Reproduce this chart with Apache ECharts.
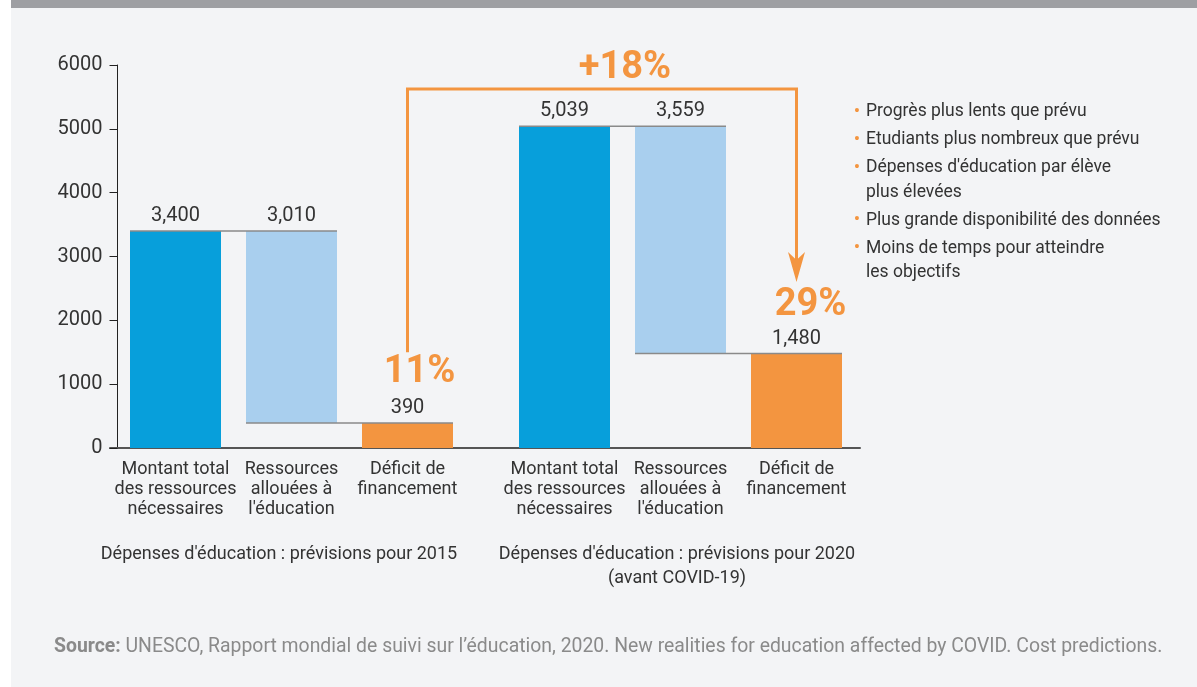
<!DOCTYPE html>
<html>
<head>
<meta charset="utf-8">
<script src="https://cdn.jsdelivr.net/npm/echarts@6/dist/echarts.min.js"></script>
<style>
html,body{margin:0;padding:0;background:#ffffff;}
#wrap{position:absolute;left:11px;top:0;width:1186px;height:687px;background:#f3f4f6;}
#bar{position:absolute;left:0;top:0;width:1186px;height:8px;background:#9e9fa3;}
#chart{position:absolute;left:0;top:0;width:1197px;height:687px;}
</style>
</head>
<body>
<div id="wrap"><div id="bar"></div></div>
<div id="chart"></div>
<script>
// ---- data ----
const categories = ['Montant total\ndes ressources\nnécessaires', 'Ressources\nallouées à\nl\'éducation', 'Déficit de\nfinancement'];
const groupTitles = ['Dépenses d\'éducation : prévisions pour 2015', 'Dépenses d\'éducation : prévisions pour 2020\n(avant COVID-19)'];
const needed = [3400, 5039];
const allocated = [3010, 3559];
const deficit = [390, 1480];
const deficitShare = ['11%', '29%'];
const increaseLabel = '+18%';
const yMin = 0, yMax = 6000, yInterval = 1000;
const notes = [
  'Progrès plus lents que prévu',
  'Etudiants plus nombreux que prévu',
  'Dépenses d\'éducation par élève\nplus élevées',
  'Plus grande disponibilité des données',
  'Moins de temps pour atteindre\nles objectifs'
];
const sourceBold = 'Source:';
const sourceText = ' UNESCO, Rapport mondial de suivi sur l’éducation, 2020. New realities for education affected by COVID. Cost predictions.';

// ---- style ----
const FONT = 'Roboto';
const C_BLUE = '#079fdb', C_LIGHT = '#a9cfee', C_ORANGE = '#f39540', C_TEXT = '#333333', C_SRC = '#8a8a8a';
const BAR_W = 91;

const chart = echarts.init(document.getElementById('chart'), null, {renderer: 'canvas'});

function fmt(v) { return Number(v).toLocaleString('en-US'); }

const grids = [
  {left: 117.5, top: 65, width: 348, height: 383},
  {left: 506.5, top: 65, width: 348, height: 383},
  {left: 110, top: 65, width: 750, height: 383}
];

const xAxes = [0, 1].map(g => ({
  type: 'category', gridIndex: g, data: categories,
  axisLine: {show: false}, axisTick: {show: false},
  axisLabel: {fontFamily: FONT, fontSize: 18, lineHeight: 20, color: C_TEXT, margin: 11, interval: 0}
}));
xAxes.push({
  type: 'value', gridIndex: 2, min: 0, max: 1,
  axisLine: {show: true, lineStyle: {color: '#555555', width: 2}},
  axisTick: {show: false}, axisLabel: {show: false}, splitLine: {show: false}
});

const yAxes = [0, 1].map(g => ({
  type: 'value', gridIndex: g, min: yMin, max: yMax, interval: yInterval,
  show: g === 0,
  axisLine: {show: true, lineStyle: {color: '#222222', width: 1}},
  axisTick: {show: true, length: 8, lineStyle: {color: '#222222'}},
  axisLabel: {fontFamily: FONT, fontSize: 20, color: C_TEXT, margin: 15, formatter: v => String(v)},
  splitLine: {show: false}
}));
yAxes.push({type: 'value', gridIndex: 2, show: false, min: 0, max: 1});

const series = [];
[0, 1].forEach(g => {
  series.push({
    type: 'bar', xAxisIndex: g, yAxisIndex: g, stack: 'w' + g, barWidth: BAR_W, silent: true,
    itemStyle: {color: 'transparent'},
    data: [0, deficit[g], 0]
  });
  series.push({
    type: 'bar', xAxisIndex: g, yAxisIndex: g, stack: 'w' + g, barWidth: BAR_W,
    data: [
      {value: needed[g], itemStyle: {color: C_BLUE}},
      {value: allocated[g], itemStyle: {color: C_LIGHT}},
      {value: deficit[g], itemStyle: {color: C_ORANGE}}
    ],
    label: {show: true, position: 'top', distance: 5, fontFamily: FONT, fontSize: 20, color: C_TEXT,
      formatter: p => fmt(p.value)}
  });
  series.push({
    type: 'custom', xAxisIndex: g, yAxisIndex: g, z: 5, silent: true,
    encode: {x: [0, 1], y: 2},
    data: [[0, 1, needed[g]], [1, 2, deficit[g]]],
    renderItem: (params, api) => {
      const v = api.value(2);
      const a = api.coord([api.value(0), v]);
      const b = api.coord([api.value(1), v]);
      return {type: 'line', shape: {x1: a[0] - BAR_W / 2, y1: a[1], x2: b[0] + BAR_W / 2, y2: b[1]},
        style: {stroke: '#8a8a8a', lineWidth: 1.5}};
    }
  });
});

chart.setOption({
  animation: false,
  textStyle: {fontFamily: FONT},
  grid: grids,
  xAxis: xAxes,
  yAxis: yAxes,
  series: series
});

// ---- annotations, positioned through the axes ----
const px = (g, cat, v) => chart.convertToPixel({gridIndex: g}, [cat, v]);
const start = px(0, 2, 1500);
const topL = px(0, 2, 5625);
const topR = px(1, 2, 5625);
const tip = px(1, 2, 2600);
const lbl11 = px(0, 2, 1175);
const lbl29 = px(1, 2, 2240);
const lbl18 = px(0, 2, 5950);

const graphic = [];
graphic.push({type: 'polyline', silent: true, z: 10,
  shape: {points: [[start[0], start[1]], [topL[0], topL[1]], [topR[0], topR[1]], [tip[0], tip[1] - 22]]},
  style: {stroke: C_ORANGE, lineWidth: 3, fill: null}});
graphic.push({type: 'polygon', silent: true, z: 10,
  shape: {points: [[tip[0], tip[1]], [tip[0] - 8.5, tip[1] - 30], [tip[0], tip[1] - 22], [tip[0] + 8.5, tip[1] - 30]]},
  style: {fill: C_ORANGE}});
const bigText = (x, y, t) => ({type: 'text', x: x, y: y, z: 10, silent: true,
  style: {text: t, font: 'bold 38px ' + FONT, fill: C_ORANGE, textAlign: 'center', textVerticalAlign: 'middle'}});
graphic.push(bigText(lbl11[0] + 12, lbl11[1], deficitShare[0]));
graphic.push(bigText(lbl29[0] + 14, lbl29[1], deficitShare[1]));
graphic.push(bigText((topL[0] + topR[0]) / 2 + 23, lbl18[1], increaseLabel));

// group titles
const gc = [[279, 553], [677, 553]];
groupTitles.forEach((t, i) => {
  graphic.push({type: 'text', x: gc[i][0], y: gc[i][1] - 11, silent: true,
    style: {text: t, font: '18px ' + FONT, fill: C_TEXT, textAlign: 'center', textVerticalAlign: 'top', lineHeight: 24}});
});

// notes list
let ny = 112;
notes.forEach(n => {
  const lines = n.split('\n');
  graphic.push({type: 'text', x: 857, y: ny, silent: true,
    style: {text: '•', font: '19px ' + FONT, fill: C_ORANGE, textAlign: 'center', textVerticalAlign: 'middle'}});
  lines.forEach((ln, k) => {
    graphic.push({type: 'text', x: 866, y: ny + k * 24.5, silent: true,
      style: {text: ln, font: '17.5px ' + FONT, fill: C_TEXT, textAlign: 'left', textVerticalAlign: 'middle'}});
  });
  ny += (lines.length - 1) * 24.5 + 28;
});

// source
graphic.push({type: 'text', x: 54, y: 647, silent: true,
  style: {text: '{b|' + sourceBold + '}{n|' + sourceText + '}', textVerticalAlign: 'middle',
    fill: C_SRC, font: '19.4px ' + FONT,
    rich: {b: {fontWeight: 'bold', fontSize: 19.4, fontFamily: FONT, fill: C_SRC},
           n: {fontSize: 19.4, fontFamily: FONT, fill: C_SRC}}}});

chart.setOption({graphic: graphic});
</script>
</body>
</html>
